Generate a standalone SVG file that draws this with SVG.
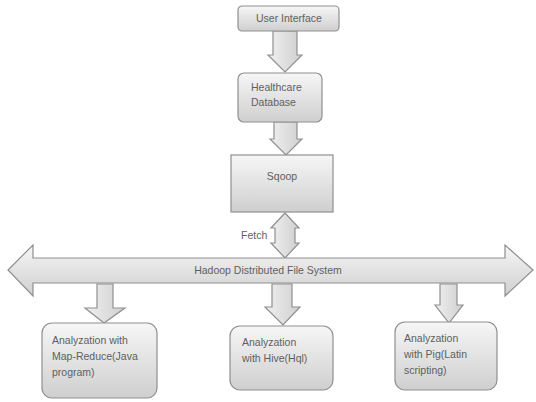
<svg xmlns="http://www.w3.org/2000/svg" width="536" height="402" viewBox="0 0 536 402">
<defs>
<linearGradient id="g" x1="0" y1="0" x2="0" y2="1">
<stop offset="0" stop-color="#f6f6f6"/>
<stop offset="1" stop-color="#cfcfcf"/>
</linearGradient>
<linearGradient id="gh" x1="0" y1="0" x2="1" y2="0">
<stop offset="0" stop-color="#f0f0f0"/>
<stop offset="1" stop-color="#cfcfcf"/>
</linearGradient>
</defs>
<style>
.box{fill:url(#g);stroke:#8f8f8f;stroke-width:1.2}
.arr{fill:url(#gh);stroke:#8f8f8f;stroke-width:1.2;stroke-linejoin:miter}
.hd{fill:url(#g);stroke:#8f8f8f;stroke-width:1.2}
text{font-family:"Liberation Sans",Arial,sans-serif;font-size:10.5px;fill:#606060}
.c{text-anchor:middle}
</style>
<rect width="536" height="402" fill="#ffffff"/>
<g id="connectors">
<path class="arr" d="M273,31 H297 V55 H302 L285,72 L268,55 H273 Z"/>
<path class="arr" d="M274,122 H297 V139 H302 L286,155 L270,139 H274 Z"/>
<path class="arr" d="M285,213 L299,228 H295 V243 H299 L285,258 L271,243 H275 V228 H271 Z"/>
<path class="arr" d="M97,284 H113 V308 H125 L104,323 L85,308 H97 Z"/>
<path class="arr" d="M272,284 H292 V307 H300 L283,325 L265,307 H272 Z"/>
<path class="arr" d="M440,284 H457 V305 H463 L449,323 L435,305 H440 Z"/>
</g>
<g id="hdfs">
<path class="hd" d="M8,270 L33,245 V258 H505 V245 L533,270 L505,296 V283 H33 V296 Z"/>
<text x="268" y="274" class="c">Hadoop Distributed File System</text>
</g>
<g id="fetch-label"><text x="241" y="239">Fetch</text></g>
<g id="user-interface">
<rect class="box" x="238" y="6" width="101" height="25" rx="4"/>
<text x="289" y="22" class="c">User Interface</text>
</g>
<g id="healthcare-database">
<rect class="box" x="238" y="73" width="84" height="49" rx="6"/>
<text x="251" y="91">Healthcare</text>
<text x="251" y="106">Database</text>
</g>
<g id="sqoop">
<rect class="box" x="231" y="155" width="102" height="57"/>
<text x="282" y="180" class="c">Sqoop</text>
</g>
<g id="mapreduce">
<rect class="box" x="42" y="323" width="115" height="75" rx="10"/>
<text x="52" y="344">Analyzation with</text>
<text x="52" y="360">Map-Reduce(Java</text>
<text x="52" y="376">program)</text>
</g>
<g id="hive">
<rect class="box" x="230" y="326" width="103" height="64" rx="10"/>
<text x="242" y="346">Analyzation</text>
<text x="242" y="362">with Hive(Hql)</text>
</g>
<g id="pig">
<rect class="box" x="395" y="322" width="102" height="68" rx="10"/>
<text x="404" y="342">Analyzation</text>
<text x="404" y="358">with Pig(Latin</text>
<text x="404" y="374">scripting)</text>
</g>
</svg>
